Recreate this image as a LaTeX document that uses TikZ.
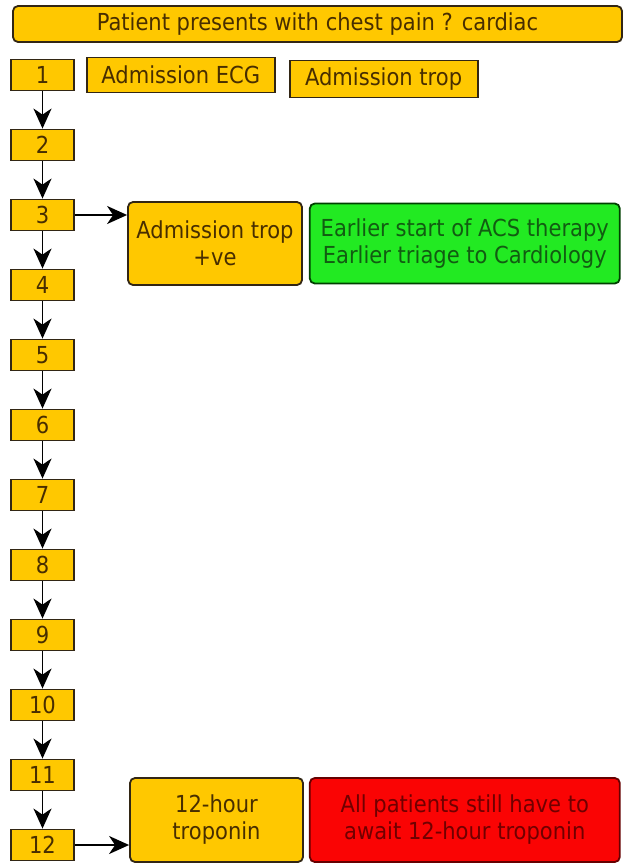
\documentclass[tikz,border=0pt]{standalone}
\usepackage{fontspec}
\setmainfont{DejaVu Sans Condensed}
\usepackage{xcolor}
\usetikzlibrary{shapes, arrows.meta, positioning}

\definecolor{boxyellow}{RGB}{255,200,0}
\definecolor{boxgreen}{RGB}{34,234,34}
\definecolor{boxred}{RGB}{250,4,4}
\definecolor{edge}{RGB}{50,38,20}
\definecolor{ytext}{RGB}{72,46,0}
\definecolor{gtext}{RGB}{18,92,18}
\definecolor{rtext}{RGB}{112,0,0}

\begin{document}
\begin{tikzpicture}[x=1pt, y=-1pt, node distance=37.2pt,
    font=\fontsize{23.4}{27}\selectfont]
    \tikzstyle{numbox} = [rectangle, draw=edge, line width=1.8pt, fill=boxyellow,
                          text=ytext, minimum width=63pt, minimum height=31pt, inner sep=0pt]
    \tikzstyle{block} = [rectangle, draw=edge, line width=1.8pt, rounded corners=5pt,
                         align=center, inner sep=0pt]
    \tikzstyle{flow} = [-{Stealth[length=20pt, width=18pt, inset=6pt]}, line width=1.8pt]

    \useasboundingbox (0,0) rectangle (624,863);

    \node [block, fill=boxyellow, text=ytext, minimum width=609pt, minimum height=36pt]
        (start) at (317.5,24) {Patient presents with chest pain ? cardiac};

    % hourly timeline
    \node [numbox] (t1) at (42.5,75) {1};
    \foreach \i [count=\j from 1] in {2,...,12}
        \node [numbox, below=of t\j] (t\i) {\i};
    \foreach \i [count=\j from 1] in {2,...,12}
        \draw [flow] (t\j) -- (t\i);

    \node [block, rounded corners=0pt, fill=boxyellow, text=ytext, minimum width=188pt,
           minimum height=35pt, right=11pt of t1] (ecg) {Admission ECG};
    \node [block, rounded corners=0pt, fill=boxyellow, text=ytext, minimum width=188pt,
           minimum height=37pt, right=13pt of ecg, yshift=-4pt] (trop) {Admission trop};

    % early result at hour 3
    \node [block, fill=boxyellow, text=ytext, minimum width=174pt, minimum height=83pt]
        (pos) at (215,243.5) {Admission trop\\+ve};
    \node [block, fill=boxgreen, draw=black!75!green, text=gtext, minimum width=310pt,
           minimum height=80pt, right=6pt of pos] (early)
        {Earlier start of ACS therapy\\Earlier triage to Cardiology};
    \draw [flow] (t3.east) -- (t3.east -| pos.west);

    % late result at hour 12
    \node [block, fill=boxyellow, text=ytext, minimum width=173pt, minimum height=84pt]
        (late) at (216.5,820) {12-hour\\troponin};
    \node [block, fill=boxred, draw=black!60!red, text=rtext, minimum width=310pt,
           minimum height=84pt, right=5pt of late] (wait)
        {All patients still have to\\await 12-hour troponin};
    \draw [flow] (t12.east) -- (t12.east -| late.west);
\end{tikzpicture}
\end{document}
